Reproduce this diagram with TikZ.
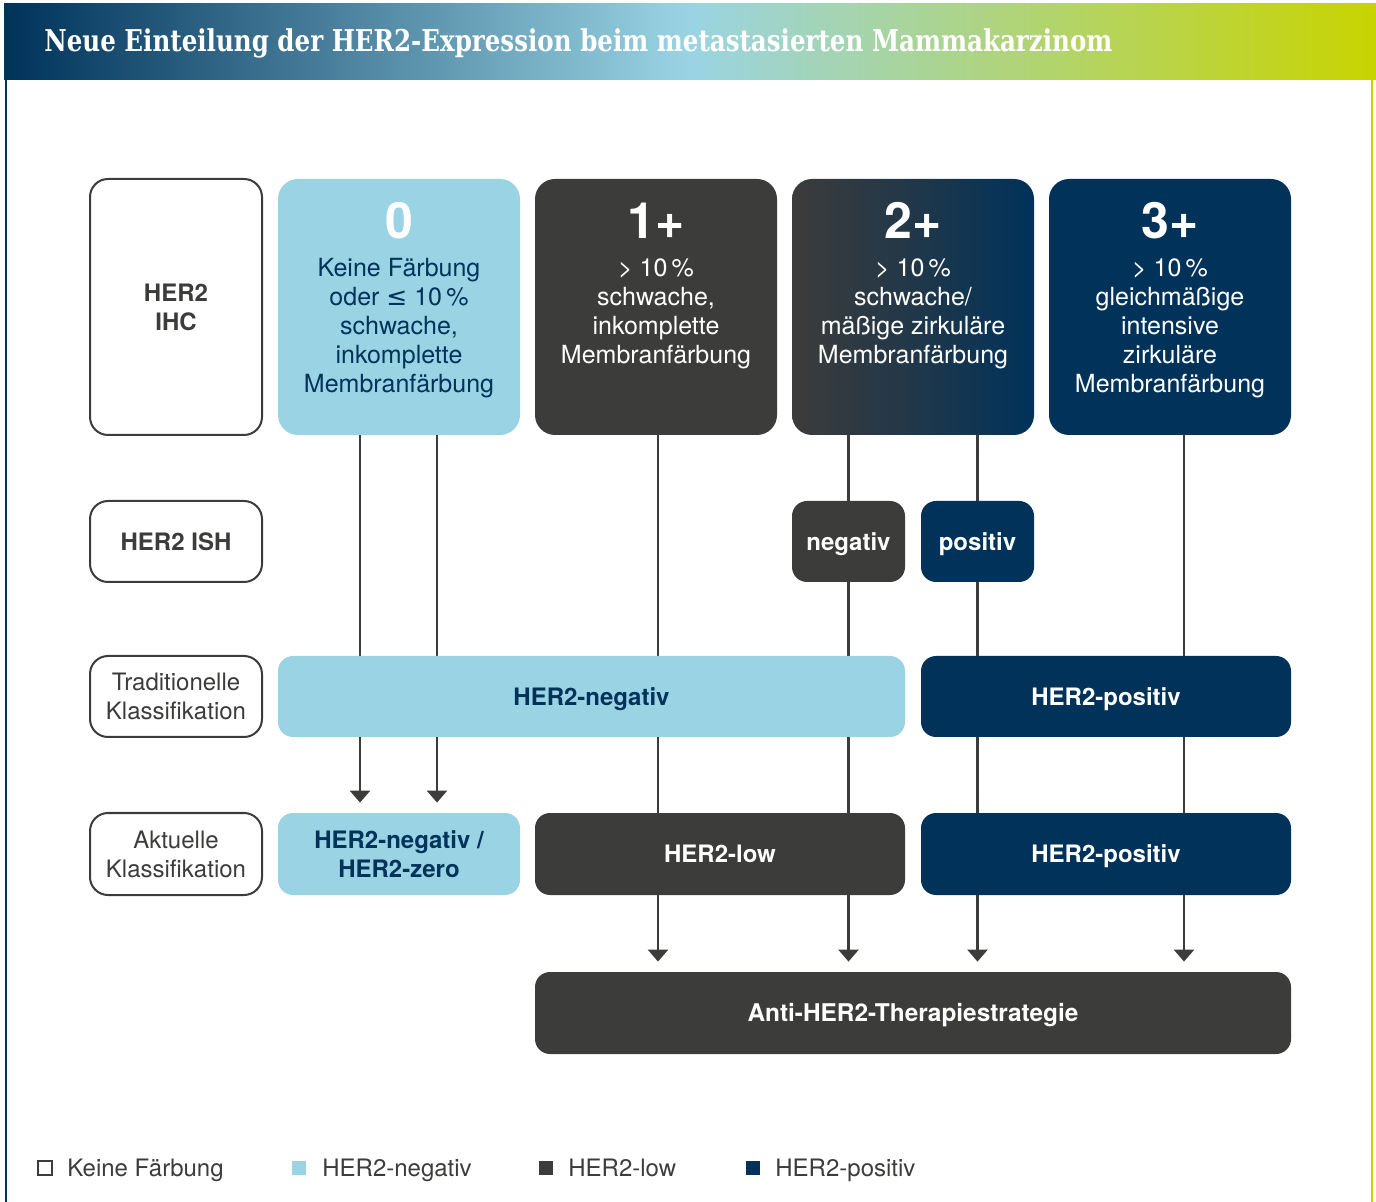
\documentclass[tikz,border=0pt]{standalone}
\usepackage{fontspec}
\setmainfont{TeX Gyre Heros}
\newfontfamily\titlefont{DejaVu Serif}
\newfontfamily\symfont{DejaVu Sans}
\usepackage{graphicx}
\usetikzlibrary{arrows.meta,backgrounds}

\definecolor{herneg}{RGB}{154,212,228}
\definecolor{herlow}{RGB}{60,60,59}
\definecolor{herpos}{RGB}{0,50,90}
\definecolor{titlegreen}{RGB}{200,212,0}

\tikzset{
  cell/.style={rounded corners=10pt, inner sep=0pt, align=center,
    font=\bfseries\fontsize{12}{14.5}\selectfont},
  oneline/.style={text height=8.6pt, text depth=0pt},
  labelbox/.style={cell, draw=herlow, line width=1pt, fill=white, text=herlow,
    minimum width=86pt, rounded corners=9pt},
  negbox/.style={cell, fill=herneg, text=herpos},
  lowbox/.style={cell, fill=herlow, text=white},
  posbox/.style={cell, fill=herpos, text=white},
  bignum/.style={font=\bfseries\fontsize{25}{25}\selectfont, inner sep=0pt, anchor=base},
  boxtext/.style={font=\fontsize{12.5}{14.5}\selectfont, align=center, inner sep=0pt, anchor=north},
  link/.style={draw=herlow, line width=1.3pt},
  arr/.style={link, -{Triangle[width=10pt,length=6pt]}, shorten >=5pt},
  legendsq/.style={minimum size=7pt, inner sep=0pt},
  legendtext/.style={anchor=west, text=herlow, inner sep=0pt, oneline,
    font=\fontsize{12}{14}\selectfont},
}

\begin{document}
\begin{tikzpicture}[x=0.5pt,y=-0.5pt]
\useasboundingbox (0,0) rectangle (1376,1202);

% title bar and frame
\shade[left color=herpos, right color=titlegreen, middle color=herneg] (4,4) rectangle (1376,80);
\node[anchor=west, inner sep=0pt, text=white] (title) at (44,43)
  {\titlefont\bfseries\fontsize{15}{15}\selectfont\resizebox{534pt}{\height}{Neue Einteilung der HER2-Expression beim metastasierten Mammakarzinom}};
\draw[herpos, line width=1pt] (6,80) -- (6,1202);
\draw[titlegreen, line width=1pt] (1372,80) -- (1372,1202);

% row labels
\node[labelbox, minimum height=128pt] (lihc) at (176,307) {HER2\\IHC};
\node[labelbox, oneline, minimum height=40.5pt] (lish) at (176,541.5) {HER2 ISH};
\node[labelbox, minimum height=40.5pt, font=\fontsize{12}{14.5}\selectfont] (ltrad) at (176,696.5) {Traditionelle\\Klassifikation};
\node[labelbox, minimum height=41pt, font=\fontsize{12}{14.5}\selectfont] (lcur) at (176,854) {Aktuelle\\Klassifikation};

% IHC scores
\node[negbox, minimum width=121pt, minimum height=128pt] (ihc0) at (399,307) {};
\node[lowbox, minimum width=121pt, minimum height=128pt] (ihc1) at (656,307) {};
\node[cell, left color=herlow, right color=herpos, middle color=herlow!55!herpos,
  minimum width=121pt, minimum height=128pt] (ihc2) at (913,307) {};
\node[posbox, minimum width=121pt, minimum height=128pt] (ihc3) at (1170,307) {};

\node[bignum, text=white] (num0) at (399,239) {0};
\node[bignum, text=white] (num1) at (656,239) {1+};
\node[bignum, text=white] (num2) at (913,239) {2+};
\node[bignum, text=white] (num3) at (1170,239) {3+};

\node[boxtext, text=herpos] (txt0) at (399,258)
  {Keine Färbung\\oder {\symfont ≤}~10\,\%\\schwache,\\inkomplette\\Membranfärbung};
\node[boxtext, text=white] (txt1) at (656,258)
  {>~10\,\%\\schwache,\\inkomplette\\Membranfärbung};
\node[boxtext, text=white] (txt2) at (913,258)
  {>~10\,\%\\schwache/\\mäßige zirkuläre\\Membranfärbung};
\node[boxtext, text=white] (txt3) at (1170,258)
  {>~10\,\%\\gleichmäßige\\intensive\\zirkuläre\\Membranfärbung};

% ISH
\node[lowbox, oneline, minimum width=56.5pt, minimum height=40.5pt, rounded corners=7.5pt] (ishneg) at (848.5,541.5) {negativ};
\node[posbox, oneline, minimum width=56.5pt, minimum height=40.5pt, rounded corners=7.5pt] (ishpos) at (977.5,541.5) {positiv};

% traditional
\node[negbox, oneline, minimum width=313.5pt, minimum height=40.5pt, rounded corners=7.5pt] (tradneg) at (591.5,696.5) {HER2-negativ};
\node[posbox, oneline, minimum width=185pt, minimum height=40.5pt, rounded corners=7.5pt] (tradpos) at (1106,696.5) {HER2-positiv};

% current
\node[negbox, minimum width=121pt, minimum height=41pt, rounded corners=7.5pt] (cur0) at (399,854) {HER2-negativ /\\HER2-zero};
\node[lowbox, oneline, minimum width=185pt, minimum height=41pt, rounded corners=7.5pt] (curlow) at (720,854) {HER2-low};
\node[posbox, oneline, minimum width=185pt, minimum height=41pt, rounded corners=7.5pt] (curpos) at (1106,854) {HER2-positiv};

% therapy
\node[lowbox, oneline, minimum width=378pt, minimum height=41pt, rounded corners=7.5pt,
  font=\bfseries\fontsize{12.2}{14.5}\selectfont] (anti) at (913,1013) {Anti-HER2-Therapiestrategie};

\begin{scope}[on background layer]
\draw[arr] ([xshift=-19.5pt]ihc0.south) -- ([xshift=-19.5pt]cur0.north);
\draw[arr] ([xshift=19pt]ihc0.south) -- ([xshift=19pt]cur0.north);
\draw[arr] ([xshift=1pt]ihc1.south) -- ([xshift=1pt]ihc1.south |- anti.north);
\draw[link] (ishneg.north |- ihc2.south) -- (ishneg.north);
\draw[link] (ishpos.north |- ihc2.south) -- (ishpos.north);
\draw[arr] (ishneg.south) -- (ishneg.south |- anti.north);
\draw[arr] (ishpos.south) -- (ishpos.south |- anti.north);
\draw[arr] ([xshift=7pt]ihc3.south) -- ([xshift=7pt]ihc3.south |- anti.north);
\end{scope}

% legend
\node[legendsq, draw=herlow, line width=1pt, fill=white] (sqnone) at (44.5,1168) {};
\node[legendtext] (lgnone) at (67,1168) {Keine Färbung};
\node[legendsq, fill=herneg] (sqneg) at (298.5,1168) {};
\node[legendtext] (lgneg) at (322,1168) {HER2-negativ};
\node[legendsq, fill=herlow] (sqlow) at (545.5,1168) {};
\node[legendtext] (lglow) at (568,1168) {HER2-low};
\node[legendsq, fill=herpos] (sqpos) at (752.5,1168) {};
\node[legendtext] (lgpos) at (775,1168) {HER2-positiv};
\end{tikzpicture}
\end{document}
